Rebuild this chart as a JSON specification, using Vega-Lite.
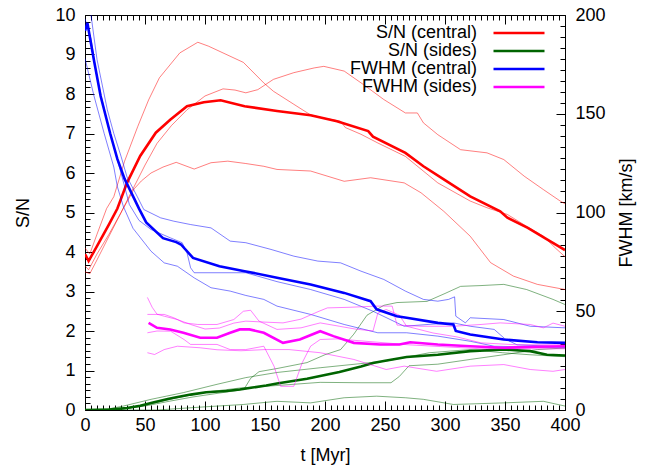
{
  "$schema": "https://vega.github.io/schema/vega-lite/v6.json",
  "width": 480,
  "height": 395,
  "autosize": {"type": "none"},
  "padding": {"left": 85, "top": 15, "right": 88, "bottom": 60},
  "background": "white",
  "config": {
    "font": "Liberation Sans",
    "view": {"stroke": "#000000", "strokeWidth": 1},
    "axis": {"grid": false, "domain": false, "labelFontSize": 18, "titleFontSize": 18, "titleFontWeight": "normal", "labelColor": "#000000", "titleColor": "#000000", "tickColor": "#000000", "labelOverlap": false, "labelFlush": false, "labelBound": false, "tickWidth": 1, "labelFont": "Liberation Sans", "titleFont": "Liberation Sans"}
  },
  "datasets": {
    "snThin": [
      {"s":"snc","r":"1","t":0,"v":4.1},{"s":"snc","r":"1","t":4,"v":3.95},{"s":"snc","r":"1","t":10,"v":4.45},{"s":"snc","r":"1","t":18,"v":5.1},{"s":"snc","r":"1","t":24,"v":5.4},{"s":"snc","r":"1","t":33,"v":6.3},{"s":"snc","r":"1","t":44,"v":7.18},{"s":"snc","r":"1","t":53,"v":7.85},{"s":"snc","r":"1","t":62,"v":8.41},{"s":"snc","r":"1","t":79,"v":9.04},{"s":"snc","r":"1","t":94,"v":9.31},{"s":"snc","r":"1","t":103,"v":9.21},{"s":"snc","r":"1","t":115,"v":9.04},{"s":"snc","r":"1","t":132,"v":8.8},{"s":"snc","r":"1","t":149,"v":8.28},{"s":"snc","r":"1","t":157,"v":8.07},{"s":"snc","r":"1","t":174,"v":7.74},{"s":"snc","r":"1","t":188,"v":7.47},{"s":"snc","r":"1","t":199,"v":7.39},{"s":"snc","r":"1","t":213,"v":7.31},{"s":"snc","r":"1","t":217,"v":7.15},{"s":"snc","r":"1","t":230,"v":6.98},{"s":"snc","r":"1","t":244,"v":6.76},{"s":"snc","r":"1","t":267,"v":6.42},{"s":"snc","r":"1","t":294,"v":5.75},{"s":"snc","r":"1","t":321,"v":5.29},{"s":"snc","r":"1","t":335,"v":5.12},{"s":"snc","r":"1","t":352,"v":4.95},{"s":"snc","r":"1","t":368,"v":4.65},{"s":"snc","r":"1","t":382,"v":4.4},{"s":"snc","r":"1","t":392,"v":4.1},{"s":"snc","r":"1","t":400,"v":3.88},
      {"s":"snc","r":"2","t":0,"v":3.65},{"s":"snc","r":"2","t":3,"v":3.55},{"s":"snc","r":"2","t":10,"v":3.95},{"s":"snc","r":"2","t":20,"v":4.45},{"s":"snc","r":"2","t":30,"v":5.0},{"s":"snc","r":"2","t":40,"v":5.6},{"s":"snc","r":"2","t":50,"v":6.2},{"s":"snc","r":"2","t":60,"v":6.75},{"s":"snc","r":"2","t":72,"v":7.2},{"s":"snc","r":"2","t":85,"v":7.6},{"s":"snc","r":"2","t":100,"v":7.95},{"s":"snc","r":"2","t":115,"v":8.13},{"s":"snc","r":"2","t":125,"v":8.1},{"s":"snc","r":"2","t":134,"v":8.03},{"s":"snc","r":"2","t":144,"v":8.11},{"s":"snc","r":"2","t":157,"v":8.37},{"s":"snc","r":"2","t":174,"v":8.54},{"s":"snc","r":"2","t":191,"v":8.66},{"s":"snc","r":"2","t":199,"v":8.7},{"s":"snc","r":"2","t":216,"v":8.58},{"s":"snc","r":"2","t":232,"v":8.24},{"s":"snc","r":"2","t":249,"v":7.86},{"s":"snc","r":"2","t":267,"v":7.52},{"s":"snc","r":"2","t":277,"v":7.52},{"s":"snc","r":"2","t":282,"v":7.27},{"s":"snc","r":"2","t":294,"v":6.97},{"s":"snc","r":"2","t":313,"v":6.59},{"s":"snc","r":"2","t":335,"v":6.51},{"s":"snc","r":"2","t":349,"v":6.34},{"s":"snc","r":"2","t":366,"v":5.92},{"s":"snc","r":"2","t":382,"v":5.58},{"s":"snc","r":"2","t":396,"v":5.29},{"s":"snc","r":"2","t":400,"v":5.22},
      {"s":"snc","r":"3","t":0,"v":3.5},{"s":"snc","r":"3","t":4,"v":3.45},{"s":"snc","r":"3","t":10,"v":3.8},{"s":"snc","r":"3","t":20,"v":4.4},{"s":"snc","r":"3","t":31,"v":5.05},{"s":"snc","r":"3","t":41,"v":5.6},{"s":"snc","r":"3","t":47,"v":5.8},{"s":"snc","r":"3","t":55,"v":6.0},{"s":"snc","r":"3","t":65,"v":6.15},{"s":"snc","r":"3","t":76,"v":6.27},{"s":"snc","r":"3","t":91,"v":6.1},{"s":"snc","r":"3","t":105,"v":6.26},{"s":"snc","r":"3","t":119,"v":6.3},{"s":"snc","r":"3","t":134,"v":6.24},{"s":"snc","r":"3","t":149,"v":6.17},{"s":"snc","r":"3","t":160,"v":6.09},{"s":"snc","r":"3","t":188,"v":6.05},{"s":"snc","r":"3","t":216,"v":5.79},{"s":"snc","r":"3","t":238,"v":5.88},{"s":"snc","r":"3","t":266,"v":5.75},{"s":"snc","r":"3","t":280,"v":5.5},{"s":"snc","r":"3","t":299,"v":5.03},{"s":"snc","r":"3","t":321,"v":4.4},{"s":"snc","r":"3","t":338,"v":3.73},{"s":"snc","r":"3","t":357,"v":3.39},{"s":"snc","r":"3","t":377,"v":3.18},{"s":"snc","r":"3","t":400,"v":3.05},
      {"s":"sns","r":"1","t":0,"v":0},{"s":"sns","r":"1","t":30,"v":0.02},{"s":"sns","r":"1","t":50,"v":0.1},{"s":"sns","r":"1","t":70,"v":0.22},{"s":"sns","r":"1","t":90,"v":0.33},{"s":"sns","r":"1","t":110,"v":0.42},{"s":"sns","r":"1","t":128,"v":0.5},{"s":"sns","r":"1","t":133,"v":0.55},{"s":"sns","r":"1","t":138,"v":0.8},{"s":"sns","r":"1","t":145,"v":0.97},{"s":"sns","r":"1","t":160,"v":1.05},{"s":"sns","r":"1","t":185,"v":1.2},{"s":"sns","r":"1","t":200,"v":1.4},{"s":"sns","r":"1","t":213,"v":1.53},{"s":"sns","r":"1","t":224,"v":1.92},{"s":"sns","r":"1","t":235,"v":2.4},{"s":"sns","r":"1","t":249,"v":2.65},{"s":"sns","r":"1","t":260,"v":2.72},{"s":"sns","r":"1","t":285,"v":2.75},{"s":"sns","r":"1","t":300,"v":2.95},{"s":"sns","r":"1","t":313,"v":3.13},{"s":"sns","r":"1","t":330,"v":3.15},{"s":"sns","r":"1","t":349,"v":3.18},{"s":"sns","r":"1","t":368,"v":3.05},{"s":"sns","r":"1","t":390,"v":2.8},{"s":"sns","r":"1","t":400,"v":2.67},
      {"s":"sns","r":"2","t":0,"v":0},{"s":"sns","r":"2","t":30,"v":0.02},{"s":"sns","r":"2","t":50,"v":0.12},{"s":"sns","r":"2","t":75,"v":0.3},{"s":"sns","r":"2","t":100,"v":0.45},{"s":"sns","r":"2","t":130,"v":0.56},{"s":"sns","r":"2","t":160,"v":0.62},{"s":"sns","r":"2","t":196,"v":0.7},{"s":"sns","r":"2","t":230,"v":0.69},{"s":"sns","r":"2","t":255,"v":0.69},{"s":"sns","r":"2","t":262,"v":0.85},{"s":"sns","r":"2","t":270,"v":1.12},{"s":"sns","r":"2","t":294,"v":1.16},{"s":"sns","r":"2","t":321,"v":1.28},{"s":"sns","r":"2","t":349,"v":1.4},{"s":"sns","r":"2","t":377,"v":1.53},{"s":"sns","r":"2","t":400,"v":1.57},
      {"s":"sns","r":"3","t":0,"v":0},{"s":"sns","r":"3","t":20,"v":0.03},{"s":"sns","r":"3","t":32,"v":0.1},{"s":"sns","r":"3","t":55,"v":0.27},{"s":"sns","r":"3","t":82,"v":0.44},{"s":"sns","r":"3","t":110,"v":0.65},{"s":"sns","r":"3","t":134,"v":0.82},{"s":"sns","r":"3","t":160,"v":0.95},{"s":"sns","r":"3","t":196,"v":1.07},{"s":"sns","r":"3","t":251,"v":1.24},{"s":"sns","r":"3","t":287,"v":1.45},{"s":"sns","r":"3","t":321,"v":1.53},{"s":"sns","r":"3","t":348,"v":1.45},{"s":"sns","r":"3","t":370,"v":1.4},{"s":"sns","r":"3","t":400,"v":1.35},
      {"s":"sns","r":"4","t":0,"v":0},{"s":"sns","r":"4","t":60,"v":0.0},{"s":"sns","r":"4","t":80,"v":0.04},{"s":"sns","r":"4","t":100,"v":0.08},{"s":"sns","r":"4","t":132,"v":0.14},{"s":"sns","r":"4","t":160,"v":0.22},{"s":"sns","r":"4","t":188,"v":0.18},{"s":"sns","r":"4","t":216,"v":0.31},{"s":"sns","r":"4","t":243,"v":0.35},{"s":"sns","r":"4","t":267,"v":0.31},{"s":"sns","r":"4","t":282,"v":0.27},{"s":"sns","r":"4","t":307,"v":0.14},{"s":"sns","r":"4","t":349,"v":0.18},{"s":"sns","r":"4","t":382,"v":0.22},{"s":"sns","r":"4","t":400,"v":0.1}
    ],
    "snThick": [
      {"s":"snc","r":"m","t":0,"v":3.95},{"s":"snc","r":"m","t":3,"v":3.77},{"s":"snc","r":"m","t":10,"v":4.15},{"s":"snc","r":"m","t":20,"v":4.7},{"s":"snc","r":"m","t":27,"v":5.1},{"s":"snc","r":"m","t":35,"v":5.75},{"s":"snc","r":"m","t":46,"v":6.43},{"s":"snc","r":"m","t":59,"v":7.02},{"s":"snc","r":"m","t":71,"v":7.35},{"s":"snc","r":"m","t":85,"v":7.69},{"s":"snc","r":"m","t":99,"v":7.79},{"s":"snc","r":"m","t":113,"v":7.84},{"s":"snc","r":"m","t":133,"v":7.69},{"s":"snc","r":"m","t":160,"v":7.57},{"s":"snc","r":"m","t":188,"v":7.46},{"s":"snc","r":"m","t":210,"v":7.31},{"s":"snc","r":"m","t":236,"v":7.06},{"s":"snc","r":"m","t":240,"v":6.92},{"s":"snc","r":"m","t":267,"v":6.51},{"s":"snc","r":"m","t":282,"v":6.17},{"s":"snc","r":"m","t":299,"v":5.84},{"s":"snc","r":"m","t":321,"v":5.41},{"s":"snc","r":"m","t":346,"v":5.03},{"s":"snc","r":"m","t":352,"v":4.87},{"s":"snc","r":"m","t":369,"v":4.61},{"s":"snc","r":"m","t":385,"v":4.32},{"s":"snc","r":"m","t":400,"v":4.05},
      {"s":"sns","r":"m","t":0,"v":0},{"s":"sns","r":"m","t":20,"v":0.01},{"s":"sns","r":"m","t":35,"v":0.05},{"s":"sns","r":"m","t":46,"v":0.11},{"s":"sns","r":"m","t":55,"v":0.18},{"s":"sns","r":"m","t":69,"v":0.28},{"s":"sns","r":"m","t":74,"v":0.31},{"s":"sns","r":"m","t":88,"v":0.39},{"s":"sns","r":"m","t":101,"v":0.45},{"s":"sns","r":"m","t":118,"v":0.48},{"s":"sns","r":"m","t":129,"v":0.52},{"s":"sns","r":"m","t":151,"v":0.62},{"s":"sns","r":"m","t":160,"v":0.67},{"s":"sns","r":"m","t":185,"v":0.79},{"s":"sns","r":"m","t":212,"v":0.96},{"s":"sns","r":"m","t":230,"v":1.1},{"s":"sns","r":"m","t":240,"v":1.19},{"s":"sns","r":"m","t":249,"v":1.24},{"s":"sns","r":"m","t":268,"v":1.34},{"s":"sns","r":"m","t":294,"v":1.4},{"s":"sns","r":"m","t":321,"v":1.49},{"s":"sns","r":"m","t":349,"v":1.53},{"s":"sns","r":"m","t":371,"v":1.49},{"s":"sns","r":"m","t":385,"v":1.4},{"s":"sns","r":"m","t":400,"v":1.38}
    ],
    "fwThin": [
      {"s":"fwc","r":"1","t":0,"v":205},{"s":"fwc","r":"1","t":5,"v":200},{"s":"fwc","r":"1","t":10,"v":177.5},{"s":"fwc","r":"1","t":18.6,"v":152},{"s":"fwc","r":"1","t":24,"v":140},{"s":"fwc","r":"1","t":30,"v":128.5},{"s":"fwc","r":"1","t":35,"v":118},{"s":"fwc","r":"1","t":43.6,"v":108},{"s":"fwc","r":"1","t":49,"v":101.5},{"s":"fwc","r":"1","t":63,"v":97.3},{"s":"fwc","r":"1","t":74,"v":95.6},{"s":"fwc","r":"1","t":88,"v":93.9},{"s":"fwc","r":"1","t":105,"v":92.2},{"s":"fwc","r":"1","t":121,"v":85.5},{"s":"fwc","r":"1","t":134,"v":84.7},{"s":"fwc","r":"1","t":155,"v":81.3},{"s":"fwc","r":"1","t":174,"v":77.9},{"s":"fwc","r":"1","t":194,"v":75.4},{"s":"fwc","r":"1","t":213,"v":74.5},{"s":"fwc","r":"1","t":230,"v":70.3},{"s":"fwc","r":"1","t":249,"v":66.1},{"s":"fwc","r":"1","t":267,"v":60.2},{"s":"fwc","r":"1","t":282,"v":56},{"s":"fwc","r":"1","t":294,"v":55.1},{"s":"fwc","r":"1","t":303,"v":56},{"s":"fwc","r":"1","t":308,"v":57.3},{"s":"fwc","r":"1","t":309,"v":47.5},{"s":"fwc","r":"1","t":317,"v":44.1},{"s":"fwc","r":"1","t":321,"v":46.7},{"s":"fwc","r":"1","t":349,"v":45.8},{"s":"fwc","r":"1","t":371,"v":42.4},{"s":"fwc","r":"1","t":400,"v":41.6},
      {"s":"fwc","r":"2","t":0,"v":198},{"s":"fwc","r":"2","t":5,"v":188},{"s":"fwc","r":"2","t":10,"v":168},{"s":"fwc","r":"2","t":20,"v":142},{"s":"fwc","r":"2","t":30,"v":120},{"s":"fwc","r":"2","t":37,"v":104},{"s":"fwc","r":"2","t":45,"v":96},{"s":"fwc","r":"2","t":55,"v":91.4},{"s":"fwc","r":"2","t":71,"v":87.2},{"s":"fwc","r":"2","t":81,"v":84.7},{"s":"fwc","r":"2","t":85,"v":79.6},{"s":"fwc","r":"2","t":88,"v":72},{"s":"fwc","r":"2","t":91,"v":69.5},{"s":"fwc","r":"2","t":134,"v":69.5},{"s":"fwc","r":"2","t":160,"v":65},{"s":"fwc","r":"2","t":188,"v":61},{"s":"fwc","r":"2","t":216,"v":56},{"s":"fwc","r":"2","t":240,"v":50},{"s":"fwc","r":"2","t":266,"v":42.4},{"s":"fwc","r":"2","t":290,"v":43.5},{"s":"fwc","r":"2","t":307,"v":44.1},{"s":"fwc","r":"2","t":321,"v":42.4},{"s":"fwc","r":"2","t":341,"v":40.8},{"s":"fwc","r":"2","t":350,"v":36},{"s":"fwc","r":"2","t":360,"v":33},{"s":"fwc","r":"2","t":400,"v":32},
      {"s":"fwc","r":"3","t":0,"v":178},{"s":"fwc","r":"3","t":7.5,"v":159},{"s":"fwc","r":"3","t":16,"v":140},{"s":"fwc","r":"3","t":24,"v":123},{"s":"fwc","r":"3","t":27,"v":113},{"s":"fwc","r":"3","t":32,"v":103},{"s":"fwc","r":"3","t":40,"v":92},{"s":"fwc","r":"3","t":55,"v":80.4},{"s":"fwc","r":"3","t":66,"v":74.5},{"s":"fwc","r":"3","t":77,"v":72.8},{"s":"fwc","r":"3","t":91,"v":66.9},{"s":"fwc","r":"3","t":105,"v":61.9},{"s":"fwc","r":"3","t":121,"v":60.2},{"s":"fwc","r":"3","t":134,"v":58},{"s":"fwc","r":"3","t":149,"v":56},{"s":"fwc","r":"3","t":160,"v":52.6},{"s":"fwc","r":"3","t":188,"v":48.4},{"s":"fwc","r":"3","t":216,"v":43.3},{"s":"fwc","r":"3","t":244,"v":39.1},{"s":"fwc","r":"3","t":268,"v":39.1},{"s":"fwc","r":"3","t":294,"v":37.4},{"s":"fwc","r":"3","t":321,"v":34.8},{"s":"fwc","r":"3","t":341,"v":32.3},{"s":"fwc","r":"3","t":400,"v":31.5},
      {"s":"fws","r":"1","t":52,"v":57},{"s":"fws","r":"1","t":56,"v":52},{"s":"fws","r":"1","t":60,"v":48.5},{"s":"fws","r":"1","t":66,"v":47.5},{"s":"fws","r":"1","t":77,"v":45.8},{"s":"fws","r":"1","t":88,"v":43.3},{"s":"fws","r":"1","t":100,"v":41},{"s":"fws","r":"1","t":112,"v":41.5},{"s":"fws","r":"1","t":124,"v":44},{"s":"fws","r":"1","t":134,"v":45},{"s":"fws","r":"1","t":150,"v":44.5},{"s":"fws","r":"1","t":165,"v":44.1},{"s":"fws","r":"1","t":180,"v":46},{"s":"fws","r":"1","t":195,"v":50},{"s":"fws","r":"1","t":202,"v":51.7},{"s":"fws","r":"1","t":220,"v":52},{"s":"fws","r":"1","t":243,"v":52.6},{"s":"fws","r":"1","t":256,"v":52.6},{"s":"fws","r":"1","t":260,"v":43},{"s":"fws","r":"1","t":280,"v":42.4},{"s":"fws","r":"1","t":307,"v":42.4},{"s":"fws","r":"1","t":330,"v":43.3},{"s":"fws","r":"1","t":346,"v":44.1},{"s":"fws","r":"1","t":371,"v":43.3},{"s":"fws","r":"1","t":382,"v":41.6},{"s":"fws","r":"1","t":390,"v":44},{"s":"fws","r":"1","t":400,"v":42.4},
      {"s":"fws","r":"2","t":52,"v":48.4},{"s":"fws","r":"2","t":66,"v":48.4},{"s":"fws","r":"2","t":74,"v":46.7},{"s":"fws","r":"2","t":82.5,"v":44.1},{"s":"fws","r":"2","t":94,"v":43.3},{"s":"fws","r":"2","t":110,"v":43.3},{"s":"fws","r":"2","t":124,"v":45.8},{"s":"fws","r":"2","t":132,"v":50},{"s":"fws","r":"2","t":138,"v":50.5},{"s":"fws","r":"2","t":145,"v":45},{"s":"fws","r":"2","t":160,"v":40.8},{"s":"fws","r":"2","t":180,"v":41.6},{"s":"fws","r":"2","t":196,"v":44.1},{"s":"fws","r":"2","t":212,"v":42.4},{"s":"fws","r":"2","t":225,"v":41},{"s":"fws","r":"2","t":240,"v":40},{"s":"fws","r":"2","t":244,"v":49},{"s":"fws","r":"2","t":251,"v":50.9},{"s":"fws","r":"2","t":262,"v":48},{"s":"fws","r":"2","t":268,"v":42.4},{"s":"fws","r":"2","t":290,"v":39},{"s":"fws","r":"2","t":310,"v":37},{"s":"fws","r":"2","t":330,"v":34},{"s":"fws","r":"2","t":360,"v":33},{"s":"fws","r":"2","t":400,"v":33},
      {"s":"fws","r":"3","t":52,"v":39.1},{"s":"fws","r":"3","t":60,"v":40},{"s":"fws","r":"3","t":71.4,"v":39.9},{"s":"fws","r":"3","t":82.5,"v":35.7},{"s":"fws","r":"3","t":88,"v":33.2},{"s":"fws","r":"3","t":110,"v":33.2},{"s":"fws","r":"3","t":121,"v":30.6},{"s":"fws","r":"3","t":134,"v":30.6},{"s":"fws","r":"3","t":149,"v":32.3},{"s":"fws","r":"3","t":157.5,"v":22.2},{"s":"fws","r":"3","t":163,"v":12},{"s":"fws","r":"3","t":174,"v":12},{"s":"fws","r":"3","t":181,"v":23.9},{"s":"fws","r":"3","t":188,"v":32.3},{"s":"fws","r":"3","t":196,"v":35.7},{"s":"fws","r":"3","t":210,"v":36},{"s":"fws","r":"3","t":230,"v":35},{"s":"fws","r":"3","t":250,"v":34},{"s":"fws","r":"3","t":270,"v":33},{"s":"fws","r":"3","t":300,"v":32},{"s":"fws","r":"3","t":330,"v":31},{"s":"fws","r":"3","t":360,"v":31},{"s":"fws","r":"3","t":400,"v":31},
      {"s":"fws","r":"4","t":52,"v":29},{"s":"fws","r":"4","t":58,"v":28.1},{"s":"fws","r":"4","t":66,"v":30.6},{"s":"fws","r":"4","t":77,"v":32.3},{"s":"fws","r":"4","t":96,"v":31.5},{"s":"fws","r":"4","t":110,"v":30.5},{"s":"fws","r":"4","t":130,"v":30},{"s":"fws","r":"4","t":150,"v":30.6},{"s":"fws","r":"4","t":170,"v":30.6},{"s":"fws","r":"4","t":196,"v":29},{"s":"fws","r":"4","t":224,"v":25.6},{"s":"fws","r":"4","t":251,"v":20.5},{"s":"fws","r":"4","t":266,"v":22.2},{"s":"fws","r":"4","t":293,"v":19.6},{"s":"fws","r":"4","t":321,"v":22.2},{"s":"fws","r":"4","t":349,"v":23},{"s":"fws","r":"4","t":371,"v":20.5},{"s":"fws","r":"4","t":390,"v":19.6},{"s":"fws","r":"4","t":400,"v":20.5}
    ],
    "fwThick": [
      {"s":"fwc","r":"m","t":0,"v":192},{"s":"fwc","r":"m","t":2,"v":196},{"s":"fwc","r":"m","t":7.5,"v":177},{"s":"fwc","r":"m","t":13,"v":159},{"s":"fwc","r":"m","t":21,"v":140},{"s":"fwc","r":"m","t":27,"v":127},{"s":"fwc","r":"m","t":33,"v":117},{"s":"fwc","r":"m","t":41,"v":107},{"s":"fwc","r":"m","t":45,"v":102},{"s":"fwc","r":"m","t":51,"v":95},{"s":"fwc","r":"m","t":65,"v":87},{"s":"fwc","r":"m","t":76,"v":85},{"s":"fwc","r":"m","t":80,"v":83.8},{"s":"fwc","r":"m","t":90,"v":77},{"s":"fwc","r":"m","t":112,"v":72.8},{"s":"fwc","r":"m","t":133,"v":70.3},{"s":"fwc","r":"m","t":160,"v":67},{"s":"fwc","r":"m","t":188,"v":63.5},{"s":"fwc","r":"m","t":216,"v":59.3},{"s":"fwc","r":"m","t":238,"v":55.1},{"s":"fwc","r":"m","t":243,"v":51},{"s":"fwc","r":"m","t":260,"v":47.5},{"s":"fwc","r":"m","t":268,"v":46.7},{"s":"fwc","r":"m","t":294,"v":44.1},{"s":"fwc","r":"m","t":307,"v":43.3},{"s":"fwc","r":"m","t":309,"v":40},{"s":"fwc","r":"m","t":321,"v":38.2},{"s":"fwc","r":"m","t":349,"v":35.7},{"s":"fwc","r":"m","t":377,"v":34.3},{"s":"fwc","r":"m","t":400,"v":34},
      {"s":"fws","r":"m","t":53,"v":44.1},{"s":"fws","r":"m","t":60,"v":41.6},{"s":"fws","r":"m","t":71,"v":40.8},{"s":"fws","r":"m","t":82,"v":39.1},{"s":"fws","r":"m","t":96,"v":36.6},{"s":"fws","r":"m","t":110,"v":36.6},{"s":"fws","r":"m","t":121,"v":39.1},{"s":"fws","r":"m","t":129,"v":40.8},{"s":"fws","r":"m","t":137,"v":40.8},{"s":"fws","r":"m","t":149,"v":39.1},{"s":"fws","r":"m","t":165,"v":34},{"s":"fws","r":"m","t":179,"v":35.7},{"s":"fws","r":"m","t":196,"v":39.9},{"s":"fws","r":"m","t":207,"v":37.4},{"s":"fws","r":"m","t":224,"v":34},{"s":"fws","r":"m","t":246,"v":33.2},{"s":"fws","r":"m","t":262,"v":33.2},{"s":"fws","r":"m","t":271,"v":34.3},{"s":"fws","r":"m","t":294,"v":33.2},{"s":"fws","r":"m","t":321,"v":32.3},{"s":"fws","r":"m","t":349,"v":31.5},{"s":"fws","r":"m","t":377,"v":32},{"s":"fws","r":"m","t":400,"v":32.3}
    ]
  },
  "layer": [
    {
      "encoding": {
        "x": {"field": "t", "type": "quantitative", "scale": {"domain": [0, 400], "nice": false, "zero": false},
          "axis": {"orient": "bottom", "title": "t [Myr]", "values": [0,5,10,15,20,25,30,35,40,45,50,55,60,65,70,75,80,85,90,95,100,105,110,115,120,125,130,135,140,145,150,155,160,165,170,175,180,185,190,195,200,205,210,215,220,225,230,235,240,245,250,255,260,265,270,275,280,285,290,295,300,305,310,315,320,325,330,335,340,345,350,355,360,365,370,375,380,385,390,395,400],
            "labelExpr": "datum.value % 50 === 0 ? datum.label : ''",
            "tickSize": {"condition": {"test": "datum.value % 50 === 0", "value": -9}, "value": -5},
            "labelPadding": 15, "titlePadding": 8}},
        "y": {"field": "v", "type": "quantitative", "scale": {"domain": [0, 10], "nice": false, "zero": false},
          "axis": {"orient": "left", "title": "S/N", "values": [0,0.1667,0.3333,0.5,0.6667,0.8333,1,1.1667,1.3333,1.5,1.6667,1.8333,2,2.1667,2.3333,2.5,2.6667,2.8333,3,3.1667,3.3333,3.5,3.6667,3.8333,4,4.1667,4.3333,4.5,4.6667,4.8333,5,5.1667,5.3333,5.5,5.6667,5.8333,6,6.1667,6.3333,6.5,6.6667,6.8333,7,7.1667,7.3333,7.5,7.6667,7.8333,8,8.1667,8.3333,8.5,8.6667,8.8333,9,9.1667,9.3333,9.5,9.6667,9.8333,10],
            "labelExpr": "abs(datum.value - round(datum.value)) < 0.01 ? format(round(datum.value), 'd') : ''",
            "tickSize": {"condition": {"test": "abs(datum.value - round(datum.value)) < 0.01", "value": -9}, "value": -5},
            "labelPadding": 19, "titlePadding": 22}},
        "color": {"field": "s", "type": "nominal",
          "scale": {"domain": ["snc", "sns", "fwc", "fws"], "range": ["#ff0000", "#006400", "#0000ff", "#ff00ff"]},
          "legend": {"orient": "none", "legendX": 425, "legendY": 9, "title": null, "symbolType": "M-5.1,0H5.1", "symbolSize": 100, "symbolStrokeWidth": 2.5, "labelFontSize": 18, "labelFont": "Liberation Sans", "labelColor": "#000000", "rowPadding": 0,
            "labelExpr": "{'snc': 'S/N (central)', 'sns': 'S/N (sides)', 'fwc': 'FWHM (central)', 'fws': 'FWHM (sides)'}[datum.value]",
            "encode": {
              "labels": {"update": {"x": {"value": -33}, "align": {"value": "right"}}},
              "symbols": {"update": {"stroke": {"scale": "color", "field": "value"}, "strokeWidth": {"value": 2.5}, "fill": {"value": "transparent"}}}
            }}},
        "detail": {"field": "r", "type": "nominal"}
      },
      "layer": [
        {"data": {"name": "snThin"}, "mark": {"type": "line", "clip": true, "strokeWidth": 1, "opacity": 0.5}},
        {"data": {"name": "snThick"}, "mark": {"type": "line", "clip": true, "strokeWidth": 2.6}}
      ]
    },
    {
      "encoding": {
        "x": {"field": "t", "type": "quantitative", "scale": {"domain": [0, 400], "nice": false, "zero": false},
          "axis": {"orient": "top", "title": null, "labels": false, "values": [0,5,10,15,20,25,30,35,40,45,50,55,60,65,70,75,80,85,90,95,100,105,110,115,120,125,130,135,140,145,150,155,160,165,170,175,180,185,190,195,200,205,210,215,220,225,230,235,240,245,250,255,260,265,270,275,280,285,290,295,300,305,310,315,320,325,330,335,340,345,350,355,360,365,370,375,380,385,390,395,400],
            "tickSize": {"condition": {"test": "datum.value % 50 === 0", "value": -9}, "value": -5}}},
        "y": {"field": "v", "type": "quantitative", "scale": {"domain": [0, 200], "nice": false, "zero": false},
          "axis": {"orient": "right", "title": "FWHM [km/s]", "titleAngle": -90, "values": [0,5.556,11.111,16.667,22.222,27.778,33.333,38.889,44.444,50,55.556,61.111,66.667,72.222,77.778,83.333,88.889,94.444,100,105.556,111.111,116.667,122.222,127.778,133.333,138.889,144.444,150,155.556,161.111,166.667,172.222,177.778,183.333,188.889,194.444,200],
            "labelExpr": "datum.value % 50 === 0 ? datum.label : ''",
            "tickSize": {"condition": {"test": "datum.value % 50 === 0", "value": -9}, "value": -5},
            "labelPadding": 19, "titlePadding": 30}},
        "color": {"field": "s", "type": "nominal"},
        "detail": {"field": "r", "type": "nominal"}
      },
      "layer": [
        {"data": {"name": "fwThin"}, "mark": {"type": "line", "clip": true, "strokeWidth": 1, "opacity": 0.5}},
        {"data": {"name": "fwThick"}, "mark": {"type": "line", "clip": true, "strokeWidth": 2.6}}
      ]
    }
  ],
  "resolve": {"scale": {"y": "independent", "x": "independent"}, "axis": {"y": "independent", "x": "independent"}}
}
